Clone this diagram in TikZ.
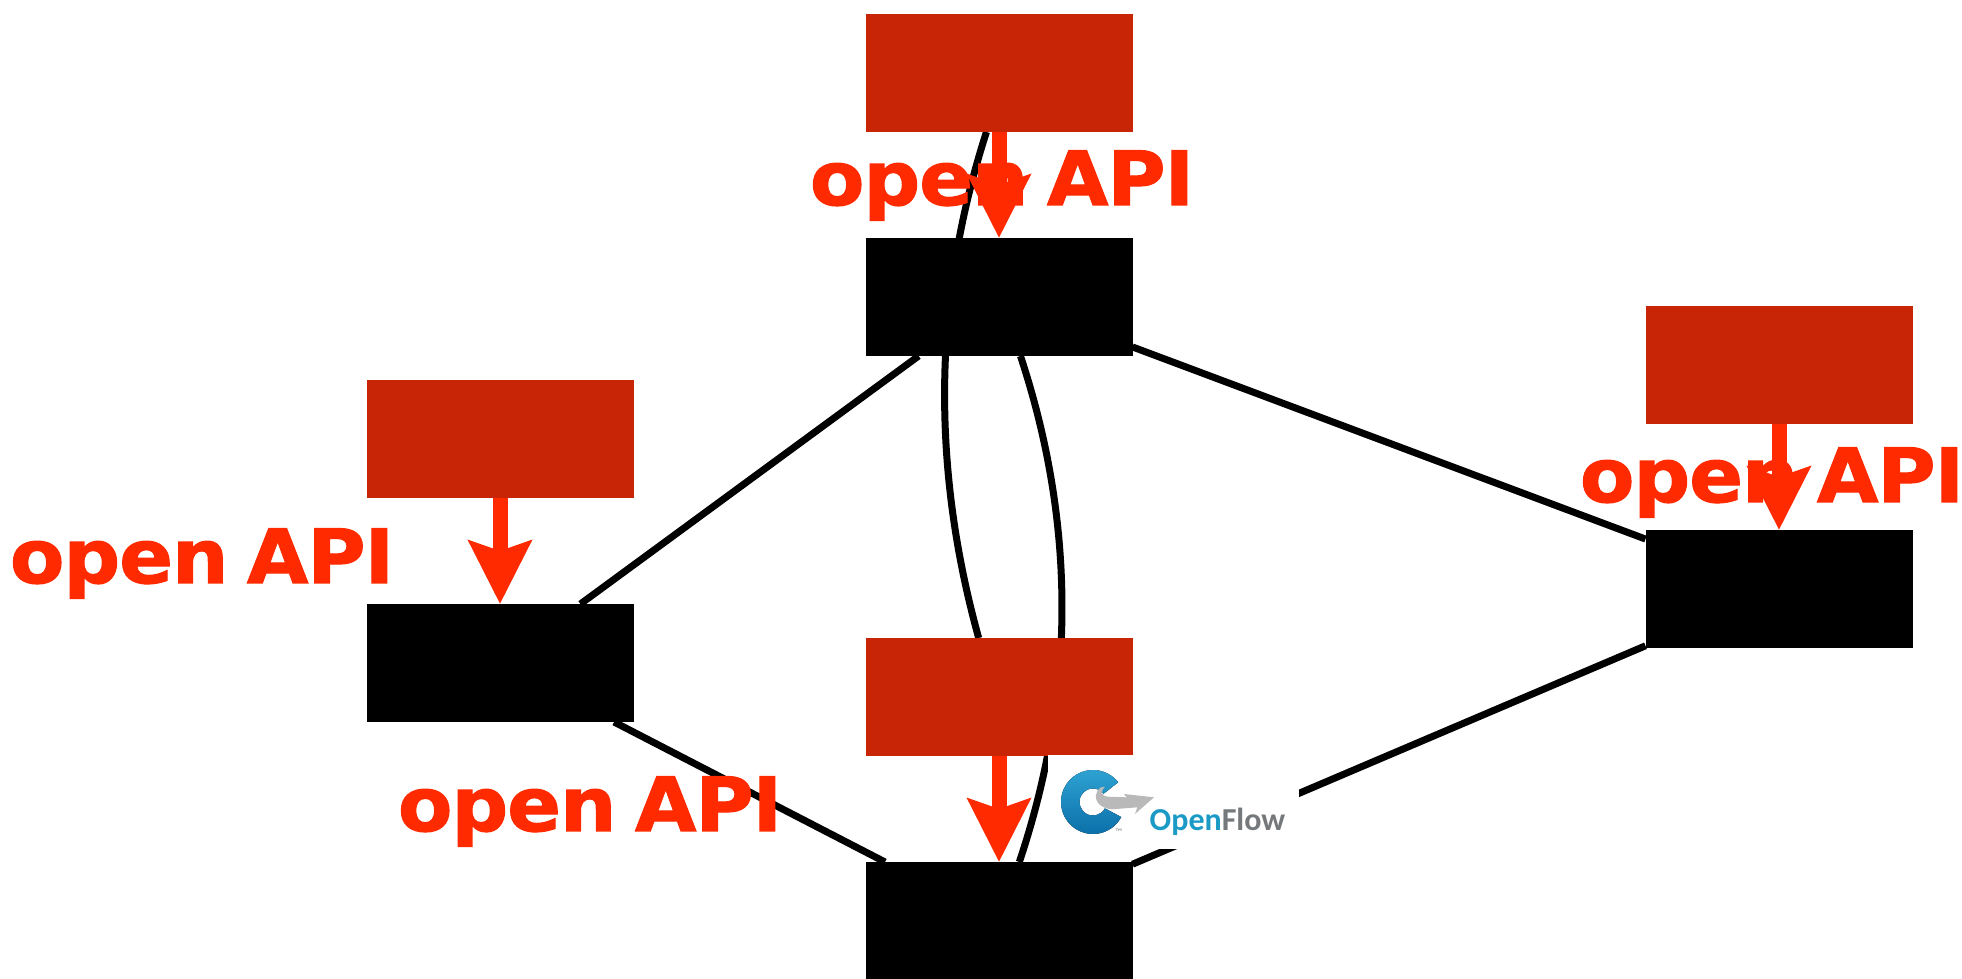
\documentclass[tikz,border=0pt]{standalone}
\usepackage{fontspec}
\setmainfont{DejaVu Sans}
\newfontfamily\apifont[FakeBold=1.5,FakeStretch=1.06,WordSpace=0.7,LetterSpace=-1.4]{DejaVu Sans Bold}
\newfontfamily\logofont{Carlito}
\usetikzlibrary{arrows.meta,backgrounds}
\definecolor{ctrlred}{HTML}{C82506}
\definecolor{apired}{HTML}{FF2A00}
\definecolor{ofblue}{HTML}{1A9AC5}
\definecolor{ofgrey}{HTML}{75797C}
\definecolor{ringtop}{HTML}{30A5D5}
\definecolor{ringbottom}{HTML}{0B6FA8}
\tikzset{
    ctrl/.style={fill=ctrlred,minimum width=2.67cm,minimum height=1.18cm,outer sep=0pt,inner sep=0pt},
    switch/.style={fill=black,minimum width=2.67cm,minimum height=1.18cm,outer sep=0pt,inner sep=0pt},
    link/.style={line width=0.07cm,black},
    api/.style={line width=0.15cm,apired,-{Stealth[length=0.63cm,width=0.62cm,inset=0.1cm]}},
    apilabel/.style={anchor=base,inner sep=0pt,apired,font=\apifont\fontsize{21.3}{24}\selectfont}
}
\begin{document}
\begin{tikzpicture}
        \useasboundingbox (0,0) rectangle (19.62,9.78);

        \node[ctrl] at (9.99,9.05) (c0){};
        \node[switch] at (9.99,6.81) (s0){};
        \node[ctrl] at (5,5.39) (c1){};
        \node[switch] at (5,3.15) (s1){};
        \node[ctrl] at (17.79,6.13) (c2){};
        \node[switch] at (17.79,3.89) (s2){};
        \node[ctrl] at (9.99,2.81) (c3){};
        \node[switch] at (9.99,0.57) (s3){};

        \begin{scope}[on background layer]
        \draw[link]
        (s1) edge (s0)
        (s0) edge (s2)
        (s2) edge (s3)
        (s1) edge (s3);
        \draw[link] (c0.-102) .. controls (9.32,6.78) and (9.32,5.08) .. (c3.109);
        \draw[link] (s0.-70) .. controls (10.76,4.54) and (10.76,2.85) .. (s3.71);
        \end{scope}

        \node[fill=white,minimum width=2.51cm,minimum height=0.94cm,inner sep=0pt] at (11.735,1.76) (logoback){};

        \node[apilabel] at (10.02,7.73) (a0){open API};
        \node[apilabel] at (2.02,3.95) (a1){open API};
        \node[apilabel] at (17.72,4.76) (a2){open API};
        \node[apilabel] at (5.90,1.47) (a3){open API};

        \draw[api] (c0) -- (s0);
        \draw[api] (c1) -- (s1);
        \draw[api] (c2) -- (s2);
        \draw[api] (c3) -- (s3);

        \coordinate (ring) at (10.93,1.76);
        \fill[top color=ringtop,bottom color=ringbottom]
        ([shift={(38:0.32)}]ring) arc[start angle=38,end angle=332,radius=0.32]
        -- ([shift={(-28:0.135)}]ring) arc[start angle=332,end angle=38,radius=0.135] -- cycle;
        \begin{scope}[shift={(10.2,2.58)},x=1cm/300,y=-1cm/300]
        \fill[gray!55] (228,225) .. controls (232,208) and (240,200) .. (255,200)
        .. controls (240,215) and (245,228) .. (262,230) -- (320,232) -- (312,222) -- (402,232)
        -- (345,282) -- (352,262) -- (275,268) .. controls (245,265) and (225,248) .. (228,225) -- cycle;
        \end{scope}
        \node[inner sep=0pt,anchor=base west,font=\logofont\bfseries\fontsize{9.1}{12}\selectfont] at (11.49,1.47) (oflabel){\textcolor{ofblue}{Open}\textcolor{ofgrey}{Flow}};
        \node[inner sep=0pt,font=\fontsize{2.5}{3}\selectfont,ofgrey] at (11.19,1.46) (tmlabel){™};
    \end{tikzpicture}
\end{document}
